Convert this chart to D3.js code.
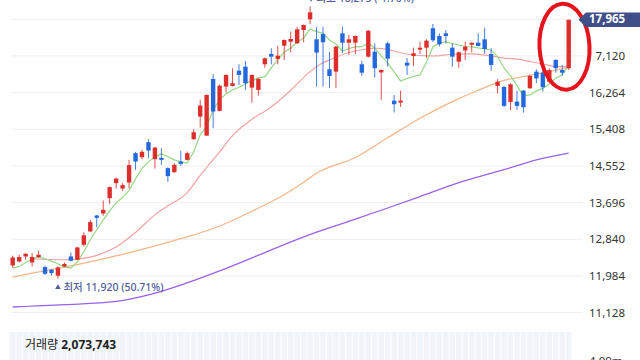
<!DOCTYPE html>
<html><head><meta charset="utf-8">
<script src="https://cdn.jsdelivr.net/npm/d3@7"></script>
<style>body{margin:0;background:#fff;overflow:hidden}svg{display:block}</style>
</head><body>
<svg id="c" width="640" height="360"></svg>
<script>
// ---- data ----
const opens=[12229,12322,12439,12299,12425,12192,12129,11989,12206,12439,12362,12712,13022,13395,13442,13801,14151,14025,14165,14850,14757,15107,14711,14741,14501,14407,14655,14694,15177,15704,15261,16583,15837,16404,16420,16777,16870,16381,16327,16926,17167,17050,17360,17453,17416,17726,17976,17509,17633,16810,16754,17649,17430,17430,16926,17104,17220,16735,17416,16077,16031,16964,17120,17267,17313,17766,17586,17649,17313,16987,17248,17383,17430,17509,17166,16420,16397,16047,16054,16311,16367,16754,16730,16520,17027,16793,16833];
const highs=[12455,12478,12513,12518,12572,12222,12140,12210,12299,12532,12665,13003,13295,13407,13745,14076,14274,14151,14694,14881,14927,15177,14998,14967,14519,14617,14904,14888,15410,16094,16222,16700,16455,16688,16833,16926,17003,16688,16607,17085,17300,17360,17505,17687,17803,17855,18275,17796,17803,17220,17353,17803,17610,17598,17010,17726,17416,16805,17453,16210,16311,17073,17313,17453,17509,17866,17649,17726,17416,17225,17453,17439,17649,17780,17300,16576,16420,16483,16311,16327,16677,16810,16810,16833,17043,16910,17965];
const lows=[12175,12304,12362,12206,12408,12005,11989,11920,12187,12327,12350,12672,13015,13120,13388,13661,14025,13964,14025,14461,14711,14734,14491,14578,14181,14391,14554,14682,15161,15448,15254,15434,15825,16264,16408,16444,16327,16031,16194,16847,16926,16926,17027,17206,17400,17439,17866,16404,16404,16367,16367,17183,17143,17166,16653,17085,16614,16094,16870,15802,15930,16677,16887,17167,17073,17446,17341,17411,16870,16840,17027,17206,17341,17166,16777,16245,15923,15853,15860,15797,16350,16483,16287,16483,16730,16653,16793];
const closes=[12415,12425,12502,12425,12478,12035,12052,12182,12262,12338,12649,12933,13241,13341,13528,14057,14258,14104,14571,14655,14881,14911,14981,14694,14314,14578,14601,14850,15340,15961,16210,15821,16427,16677,16483,16677,16483,16677,16583,17066,17104,17127,17493,17516,17743,17843,18139,17197,17440,16653,17337,17430,17509,17586,16730,17710,16833,16793,17057,15993,16077,16894,17183,17313,17477,17486,17393,17586,17104,17206,17337,17430,17353,17283,16910,16520,15954,16460,15954,15923,16653,16595,16390,16793,16833,16730,17965];
const ma5=[12168,12206,12300,12378,12425,12390,12330,12268,12190,12168,12315,12548,12828,13062,13295,13505,13691,13820,13983,14251,14496,14647,14764,14834,14771,14694,14647,14617,14881,15277,15471,15860,16094,16234,16327,16390,16467,16549,16607,16630,16840,17027,17213,17307,17447,17540,17750,17687,17649,17493,17400,17237,17295,17330,17337,17416,17307,17120,16957,16747,16537,16595,16642,16677,16980,17330,17423,17447,17411,17376,17341,17330,17307,17283,17260,17097,16840,16653,16420,16187,16210,16304,16362,16467,16607,16677,16910];
const ma20=[[3,12385],[8,12362],[10,12378],[13,12465],[16,12660],[19,13000],[22,13410],[24,13620],[27,13930],[29,14330],[32,14880],[34,15260],[37,15640],[40,15930],[43,16320],[46,16754],[48,16960],[49,17027],[52,17200],[54,17265],[56,17300],[58,17272],[60,17195],[62,17143],[65,17120],[68,17160],[71,17167],[74,17120],[76,17070],[78,17045],[80,16990],[83,16900],[84,16870],[86,16870]];
const ma60=[[0,11958],[3,12051],[8,12191],[13,12350],[19,12565],[24,12770],[27,12895],[32,13150],[37,13495],[42,13880],[45,14170],[47,14380],[53,14750],[58,15210],[63,15667],[68,16054],[72,16320],[76,16550],[80,16665],[84,16790],[86,16847]];
const ma120=[[0,11259],[8,11312],[16,11389],[21,11540],[26,11770],[32,12100],[37,12405],[42,12715],[47,13005],[53,13310],[58,13570],[63,13838],[68,14111],[76,14465],[81,14694],[86,14850]];
const yTicks=[11128,11984,12840,13696,14552,15408,16264,17120,17976];
const currentPrice=17965;
const highText="최고 18,275 (-1.70%)";
const lowText="최저 11,920 (50.71%)";
const volName="거래량", volValue="2,073,743", volAxis="4.09m";

// ---- drawing ----
const svg=d3.select("#c");
const n=closes.length;
const x=d3.scaleLinear().domain([0,n-1]).range([12.7,568.7]);
const y=d3.scaleLinear().domain([11128,17976]).range([312.6,19.3]);
const FONT="'Noto Sans','Noto Sans CJK KR',sans-serif";

// grid
svg.append("g").selectAll("line").data(yTicks).join("line")
  .attr("x1",11).attr("x2",583).attr("y1",d=>y(d)).attr("y2",d=>y(d))
  .attr("stroke","#efefef").attr("stroke-width",1);

// volume panel stripes
svg.append("g").selectAll("rect").data(d3.range(n)).join("rect")
  .attr("x",i=>x(i)-2.8).attr("width",5.6).attr("y",332).attr("height",30)
  .attr("fill","#f2f4fb");

// moving averages
const lineArr=d3.line().x(d=>x(d[0])).y(d=>y(d[1])).curve(d3.curveMonotoneX);
svg.append("path").attr("d",lineArr(ma120)).attr("fill","none").attr("stroke","#9a62f0").attr("stroke-width",1.3);
svg.append("path").attr("d",lineArr(ma60)).attr("fill","none").attr("stroke","#f6b688").attr("stroke-width",1.3);
svg.append("path").attr("d",lineArr(ma20)).attr("fill","none").attr("stroke","#f2a2a2").attr("stroke-width",1.2);
svg.append("path").attr("d",d3.line().x((d,i)=>x(i)).y(d=>y(d))(ma5)).attr("fill","none").attr("stroke","#96d883").attr("stroke-width",1.2);

// candles
const up="#dc2f2c", dn="#2368dc";
const cg=svg.append("g");
d3.range(n).forEach(i=>{
  const c=closes[i]>=opens[i]?up:dn;
  cg.append("line").attr("x1",x(i)).attr("x2",x(i)).attr("y1",y(highs[i])).attr("y2",y(lows[i]))
    .attr("stroke",c).attr("stroke-width",1).attr("opacity",0.85);
  const t=y(Math.max(opens[i],closes[i])), b=y(Math.min(opens[i],closes[i]));
  cg.append("rect").attr("x",x(i)-2.2).attr("width",4.4).attr("y",t).attr("height",Math.max(1.5,b-t)).attr("fill",c);
});

// y axis labels
const ax=svg.append("g").attr("transform","translate(589,0)")
  .call(d3.axisRight(y).tickValues(yTicks).tickFormat(d3.format(",")).tickSize(0).tickPadding(0));
ax.select(".domain").remove();
ax.selectAll("text").attr("font-family",FONT).attr("font-size",11.5).attr("fill","#333").attr("x",0);

// high / low labels
const labC="#4f5e9e";
svg.append("path").attr("d",d3.symbol(d3.symbolTriangle,14)()).attr("transform",`translate(${x(7)},${y(11920)+8.8})`).attr("fill",labC);
svg.append("text").attr("x",x(7)+5.5).attr("y",y(11920)+9.8).attr("dominant-baseline","middle")
  .attr("font-family",FONT).attr("font-size",10.5).attr("font-weight",500).attr("fill",labC).text(lowText);
svg.append("path").attr("d",d3.symbol(d3.symbolTriangle,14)()).attr("transform",`translate(${x(46)+1},${y(18275)-8}) rotate(180)`).attr("fill",labC);
svg.append("text").attr("x",x(46)+6.5).attr("y",y(18275)-7).attr("dominant-baseline","middle")
  .attr("font-family",FONT).attr("font-size",10.5).attr("font-weight",500).attr("fill",labC).text(highText);

// volume label
const vt=svg.append("text").attr("x",25).attr("y",349).attr("font-family",FONT).attr("font-size",12).attr("fill","#222");
vt.append("tspan").text(volName+" ");
vt.append("tspan").attr("font-weight",700).text(volValue);
svg.append("text").attr("x",589).attr("y",362).attr("dominant-baseline","middle").attr("font-family",FONT).attr("font-size",11.5).attr("fill","#333").text(volAxis);

// annotation ellipse (white halo over the axis side, then red)
svg.append("clipPath").attr("id","cl").append("rect").attr("x",587).attr("y",0).attr("width",60).attr("height",120);
const ell=(g)=>g.attr("cx",0).attr("cy",0).attr("rx",25).attr("ry",43).attr("fill","none")
  .attr("transform","translate(564.5,46.7) rotate(-3)");
svg.append("g").attr("clip-path","url(#cl)").append("ellipse").call(ell).attr("stroke","#fff").attr("stroke-width",12);
svg.append("ellipse").call(ell).attr("stroke","#e5141c").attr("stroke-width",4);

// current price tag
const py=y(currentPrice);
svg.append("path").attr("d",`M578.5,${py} L586,${py-7.3} L640,${py-7.3} L640,${py+7.3} L586,${py+7.3} Z`).attr("fill","#3f4f88");
svg.append("text").attr("x",589).attr("y",py+0.5).attr("dominant-baseline","middle")
  .attr("font-family",FONT).attr("font-size",11.5).attr("font-weight",700).attr("fill","#fff").text(d3.format(",")(currentPrice));
</script>
</body></html>
